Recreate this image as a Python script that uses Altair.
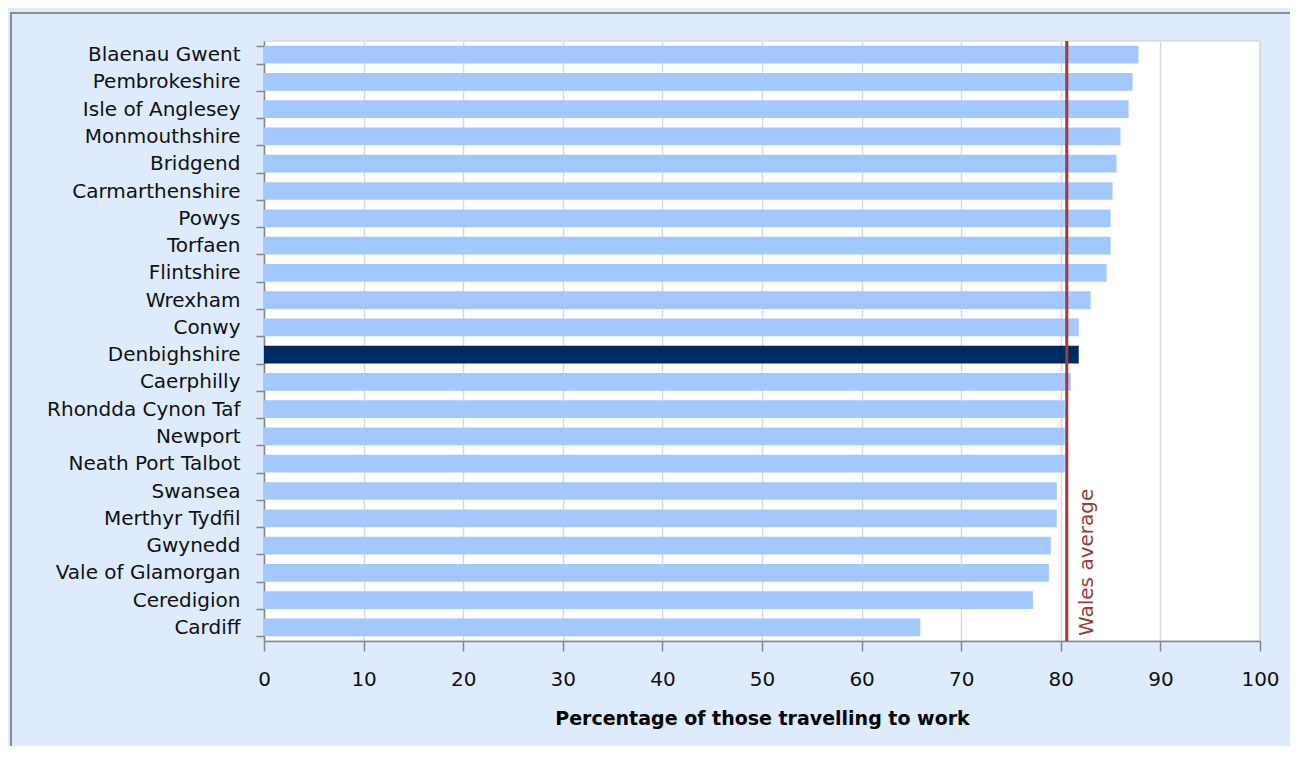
import altair as alt
import pandas as pd

areas = ["Blaenau Gwent", "Pembrokeshire", "Isle of Anglesey", "Monmouthshire", "Bridgend",
         "Carmarthenshire", "Powys", "Torfaen", "Flintshire", "Wrexham", "Conwy", "Denbighshire",
         "Caerphilly", "Rhondda Cynon Taf", "Newport", "Neath Port Talbot", "Swansea",
         "Merthyr Tydfil", "Gwynedd", "Vale of Glamorgan", "Ceredigion", "Cardiff"]
values = [87.8, 87.2, 86.8, 86.0, 85.6, 85.2, 85.0, 85.0, 84.6, 83.0, 81.8, 81.8,
          81.0, 80.4, 80.4, 80.4, 79.6, 79.6, 79.0, 78.8, 77.2, 65.9]
highlight = "Denbighshire"
wales_average = 80.6
avg_label = "Wales average"

df = pd.DataFrame({"area": areas, "value": values,
                   "hl": ["yes" if a == highlight else "no" for a in areas]})
avg_df = pd.DataFrame({"avg": [wales_average], "label": [avg_label]})

FONT = "DejaVu Sans"
W, H = 996, 600

bars = alt.Chart(df).mark_bar().encode(
    y=alt.Y("area:N", sort=areas,
            scale=alt.Scale(paddingInner=0.35, paddingOuter=0.175),
            axis=alt.Axis(title=None, tickBand="extent", tickSize=8, labelPadding=16,
                          labelFontSize=20, labelFont=FONT, labelColor="#111111", labelLimit=400,
                          domainColor="#868686", tickColor="#868686", domainWidth=1.5,
                          tickWidth=1.5, grid=False)),
    x=alt.X("value:Q", scale=alt.Scale(domain=[0, 100], nice=False),
            axis=alt.Axis(title="Percentage of those travelling to work", values=list(range(0, 101, 10)),
                          tickSize=10, labelPadding=18, labelFontSize=20, labelFont=FONT,
                          labelFlush=False,
                          labelColor="#111111", domainColor="#868686", tickColor="#868686",
                          domainWidth=1.5, tickWidth=1.5, gridColor="#D9D9D9", gridWidth=1.5,
                          titleFont=FONT, titleFontSize=19, titleFontWeight="bold",
                          titleColor="#000000", titlePadding=20)),
    color=alt.Color("hl:N", scale=alt.Scale(domain=["no", "yes"], range=["#A3C8FD", "#012A63"]),
                    legend=None),
)

rule = alt.Chart(avg_df).mark_rule(color="#9E3A3A", strokeWidth=3).encode(x="avg:Q")

label = alt.Chart(avg_df).mark_text(
    angle=270, align="left", baseline="top", dy=10, color="#9E3A3A",
    font=FONT, fontSize=20
).encode(x="avg:Q", y=alt.value(H - 5), text="label:N")

# outer frame of the chart area (left and top edges, as in the reference)
frame_left = alt.Chart(avg_df).mark_rule(color="#8C8C8C", strokeWidth=2).encode(
    x=alt.value(-253), y=alt.value(-29), y2=alt.value(H + 105))
frame_top = alt.Chart(avg_df).mark_rule(color="#8C8C8C", strokeWidth=2).encode(
    x=alt.value(-254), x2=alt.value(W + 30), y=alt.value(-28))

chart = alt.layer(bars, rule, label, frame_left, frame_top).properties(
    width=W, height=H,
    background="#DDEBFD",
    autosize=alt.AutoSizeParams(type="none"),
    padding={"left": 256, "top": 33, "right": 30, "bottom": 105},
).configure_view(fill="white", stroke="#DADADA", strokeWidth=1.5)

chart.save("out.html", embed_options={"renderer": "svg", "actions": False})
